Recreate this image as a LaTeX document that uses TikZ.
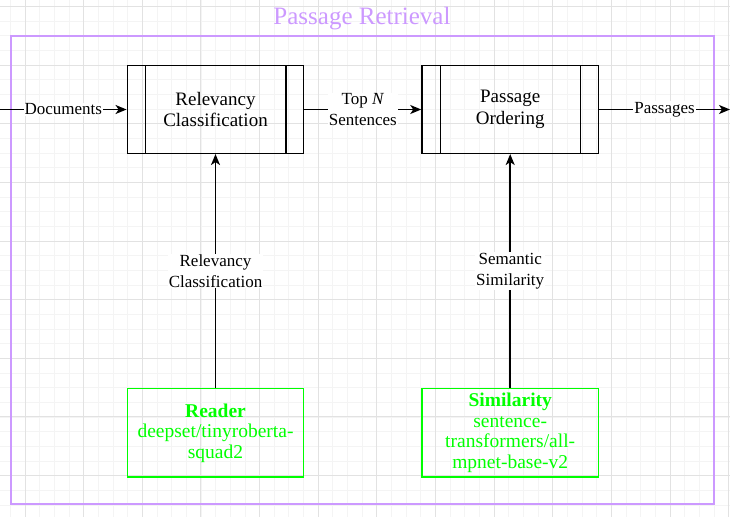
\documentclass[tikz,border=0pt]{standalone}
\usepackage{fontspec}
\setmainfont{Liberation Serif}
\usetikzlibrary{positioning, arrows.meta}

\definecolor{framepurple}{HTML}{CC99FF}
\definecolor{modelgreen}{HTML}{00FF00}
\definecolor{gridmajor}{HTML}{E2E2E2}
\definecolor{gridminor}{HTML}{F4F4F4}

\begin{document}
\begin{tikzpicture}[x=1pt, y=-1pt, node distance = 116.8pt,
    procbox/.style = {draw, line width=1.5pt, minimum width=176.4pt, minimum height=87.6pt,
        align=center, font=\fontsize{19}{21.7}\selectfont,
        path picture={
            \draw[line width=1.5pt] ([xshift=18.4pt]path picture bounding box.north west)
                -- ([xshift=18.4pt]path picture bounding box.south west);
            \draw[line width=1.5pt] ([xshift=-17.8pt]path picture bounding box.north east)
                -- ([xshift=-17.8pt]path picture bounding box.south east);
        }},
    modelbox/.style = {draw=modelgreen, text=modelgreen, line width=1.4pt,
        minimum width=176.4pt, minimum height=88.4pt, align=center,
        font=\fontsize{19.5}{20.5}\selectfont},
    flow/.style = {line width=1.5pt, -{Stealth[length=11pt, width=9pt, inset=3pt]}},
    flowlabel/.style = {fill=white, inner sep=1pt, align=center, font=\fontsize{17}{20.5}\selectfont}]

    \useasboundingbox (0,0) rectangle (730,517);

    % background grid
    \begin{scope}
        \clip (0,0) rectangle (730,517);
        \foreach \i in {-1,...,48}
            \draw[gridminor, line width=0.8pt] ({25+14.66*\i},0) -- ({25+14.66*\i},517);
        \foreach \i in {0,...,35}
            \draw[gridminor, line width=0.8pt] (0,{6.5+14.66*\i}) -- (730,{6.5+14.66*\i});
        \foreach \i in {0,...,12}
            \draw[gridmajor, line width=1pt] ({25+58.64*\i},0) -- ({25+58.64*\i},517);
        \foreach \i in {0,...,8}
            \draw[gridmajor, line width=1pt] (0,{6.5+58.64*\i}) -- (730,{6.5+58.64*\i});
    \end{scope}

    % container
    \node (frame) [draw=framepurple, line width=1.5pt, minimum width=703pt, minimum height=468pt,
        inner sep=0pt] at (362.5,270) {};
    \node (title) [text=framepurple, font=\fontsize{25}{28}\selectfont] at (362,19) {Passage Retrieval};

    % stages
    \node (relev) [procbox] at (215.5,109.5) {Relevancy\\Classification};
    \node (order) [procbox, right=of relev] {Passage\\Ordering};

    % models
    \node (reader) [modelbox, below=234pt of relev] {\textbf{Reader}\\deepset/tinyroberta-\\squad2};
    \node (simil) [modelbox, below=234pt of order] {\textbf{Similarity}\\sentence-\\transformers/all-\\mpnet-base-v2};

    \coordinate (docin) at (0,109.5);
    \coordinate (passout) at (730,109.5);

    \draw[flow] (docin) -- node[flowlabel] {Documents} (relev);
    \draw[flow] (relev) -- node[flowlabel] {Top \textit{N}\\Sentences} (order);
    \draw[flow] (order) -- node[flowlabel] {Passages} (passout);

    \draw[flow] (reader) -- node[flowlabel] {Relevancy\\Classification} (relev);
    \draw[flow] (simil) -- node[flowlabel] {Semantic\\Similarity} (order);
\end{tikzpicture}
\end{document}
